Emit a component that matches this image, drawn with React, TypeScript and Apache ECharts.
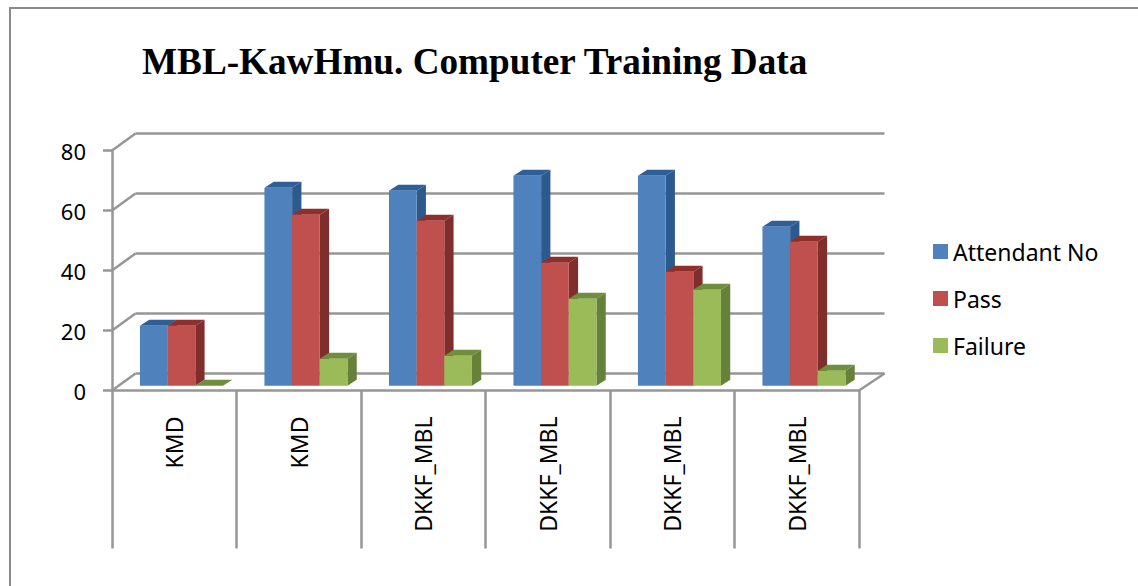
import React, { useEffect, useRef } from "react";
import * as echarts from "echarts";

const titleText = "MBL-KawHmu. Computer Training Data";
const categories = ["KMD", "KMD", "DKKF_MBL", "DKKF_MBL", "DKKF_MBL", "DKKF_MBL"];
const attendantNo = [20, 66, 65, 70, 70, 53];
const pass = [20, 57, 55, 41, 38, 48];
const failure = [0, 9, 10, 29, 32, 5];
const valueTicks = [0, 20, 40, 60, 80];
const seriesNames = ["Attendant No", "Pass", "Failure"];
const seriesValues = [attendantNo, pass, failure];
const frontColors = ["#4F81BD", "#C0504D", "#9BBB59"];
const sideColors = ["#2C5A8F", "#7F2E2C", "#66813A"];
const topColors = ["#2F5F97", "#8E2F2C", "#6F8E3E"];

const gray = "#969696";
const fontFamily = "'Noto Sans', sans-serif";

const depthX = 23.5;
const depthY = -17;
const barDepthX = 9.3;
const barDepthY = -6;
const barBaseLift = -4.7;
const barGroupShift = 7.2;

function wallRender(params: any, api: any) {
  const tick = api.value(1);
  const band = api.size([1, 0])[0];
  const leftPt = api.coord([0, tick]);
  const rightPt = api.coord([categories.length - 1, tick]);
  const x0 = leftPt[0] - band / 2;
  const x1 = rightPt[0] + band / 2;
  const y = leftPt[1];
  const lineStyle = { stroke: gray, lineWidth: 2.5, fill: "none" };
  const children: any[] = [
    { type: "line", shape: { x1: x0, y1: y, x2: x0 + depthX, y2: y + depthY }, style: lineStyle },
    { type: "line", shape: { x1: x0 + depthX, y1: y + depthY, x2: x1 + depthX + 2, y2: y + depthY }, style: lineStyle },
  ];
  if (tick === 0) {
    children.push({ type: "line", shape: { x1, y1: y, x2: x1 + depthX + 2, y2: y + depthY }, style: lineStyle });
  }
  return { type: "group", children };
}

function barRender(seriesIndex: number) {
  return (params: any, api: any) => {
    const cat = api.value(0);
    const val = api.value(1);
    const band = api.size([1, 0])[0];
    const barW = band / 4.5;
    const top = api.coord([cat, val]);
    const base = api.coord([cat, 0]);
    const x0 = top[0] + barGroupShift - barW * 1.5 + barW * seriesIndex;
    const x1 = x0 + barW;
    const yT = top[1] + barBaseLift;
    const yB = base[1] + barBaseLift;
    return {
      type: "group",
      children: [
        {
          type: "polygon",
          shape: { points: [[x0, yT], [x0 + barDepthX, yT + barDepthY], [x1 + barDepthX, yT + barDepthY], [x1, yT]] },
          style: { fill: topColors[seriesIndex] },
        },
        {
          type: "polygon",
          shape: { points: [[x1, yT], [x1 + barDepthX, yT + barDepthY], [x1 + barDepthX, yB + barDepthY], [x1, yB]] },
          style: { fill: sideColors[seriesIndex] },
        },
        {
          type: "rect",
          shape: { x: x0, y: yT, width: barW, height: yB - yT },
          style: { fill: frontColors[seriesIndex] },
        },
      ],
    };
  };
}

export default function App() {
  const ref = useRef<HTMLDivElement>(null);
  useEffect(() => {
    const chart = echarts.init(ref.current!, undefined, { renderer: "svg" });
    chart.setOption({
      animation: false,
      backgroundColor: "#FFFFFF",
      title: {
        text: titleText,
        left: 137,
        top: 38,
        textStyle: { fontFamily: "'Liberation Serif', serif", fontWeight: "bold", fontSize: 37.2, color: "#000" },
      },
      legend: {
        orient: "vertical",
        left: 928,
        top: 235,
        icon: "rect",
        itemWidth: 15,
        itemHeight: 15,
        itemGap: 24,
        data: seriesNames,
        textStyle: { fontFamily, fontSize: 23, color: "#000" },
      },
      graphic: [
        { type: "polyline", silent: true, shape: { points: [[10, 586], [10, 8], [1138, 8]] }, style: { stroke: "#8A8A8A", lineWidth: 2, fill: "none" } },
      ],
      grid: { left: 112, right: 279, top: 150.5, bottom: 195.5 },
      xAxis: {
        type: "category",
        data: categories,
        axisLine: { lineStyle: { color: gray, width: 2.5 } },
        axisTick: { show: true, length: 158, lineStyle: { color: gray, width: 2.5 } },
        axisLabel: { interval: 0, rotate: 90, margin: 26, fontFamily, fontSize: 23, color: "#000" },
      },
      yAxis: {
        type: "value",
        min: 0,
        max: 80,
        interval: 20,
        axisLine: { show: true, lineStyle: { color: gray, width: 2.5 } },
        axisTick: { show: true, length: 9, lineStyle: { color: gray, width: 2.5 } },
        axisLabel: { margin: 26, fontFamily, fontSize: 22, color: "#000" },
        splitLine: { show: false },
      },
      series: [
        {
          type: "custom",
          name: "walls",
          silent: true,
          renderItem: wallRender,
          data: valueTicks.map((t) => [0, t]),
        },
        ...seriesNames.map((name, s) => ({
          type: "custom",
          name,
          silent: true,
          itemStyle: { color: frontColors[s] },
          renderItem: barRender(s),
          data: seriesValues[s].map((v, i) => [i, v]),
        })),
      ],
    });
    return () => chart.dispose();
  }, []);
  return <div ref={ref} style={{ position: "fixed", left: 0, top: 0, width: 1138, height: 586 }} />;
}
